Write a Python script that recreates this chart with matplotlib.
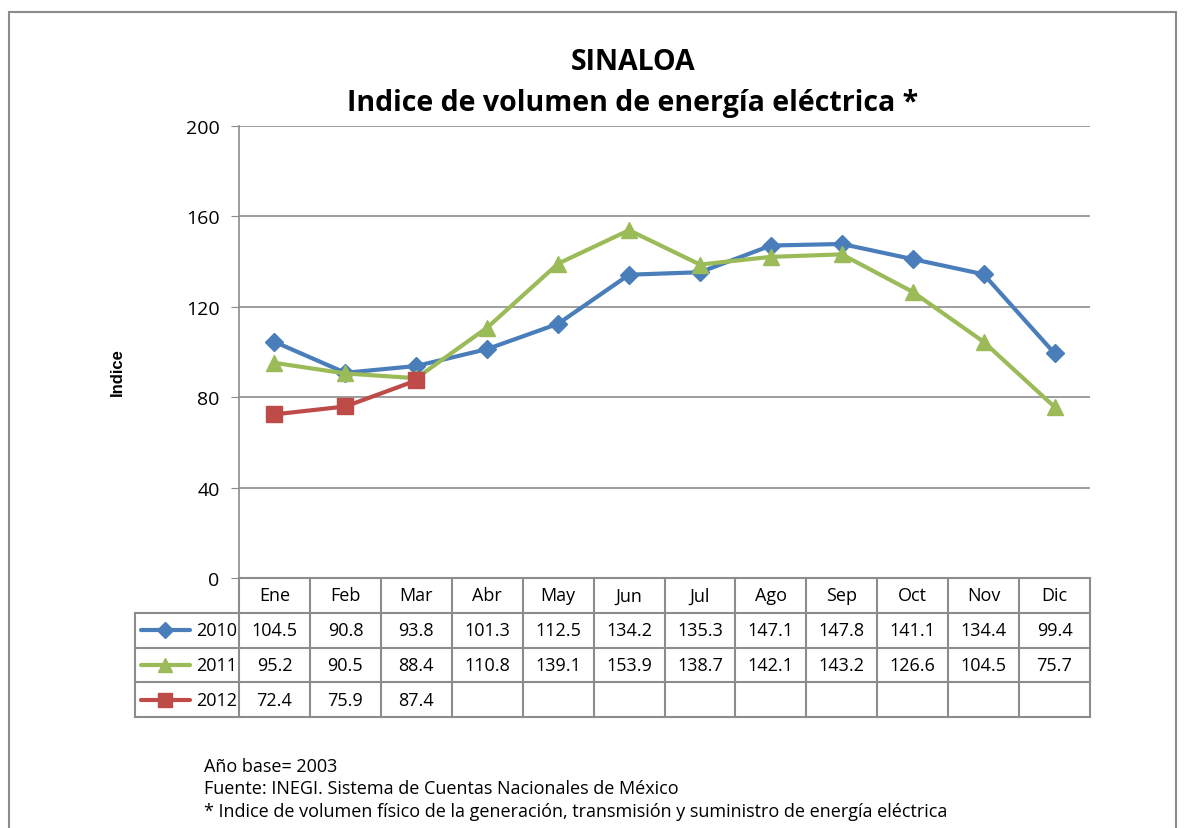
import numpy as np
import matplotlib.pyplot as plt
from matplotlib.patches import Rectangle

meses = ['Ene', 'Feb', 'Mar', 'Abr', 'May', 'Jun', 'Jul', 'Ago', 'Sep', 'Oct', 'Nov', 'Dic']
v2010 = [104.5, 90.8, 93.8, 101.3, 112.5, 134.2, 135.3, 147.1, 147.8, 141.1, 134.4, 99.4]
v2011 = [95.2, 90.5, 88.4, 110.8, 139.1, 153.9, 138.7, 142.1, 143.2, 126.6, 104.5, 75.7]
v2012 = [72.4, 75.9, 87.4]
series = [('2010', v2010, '#4A7EBB', 'D', 9),
          ('2011', v2011, '#9BBB59', '^', 11),
          ('2012', v2012, '#BE4B48', 's', 11)]

W, H = 1184, 829
plt.rcParams['font.family'] = ['Open Sans', 'DejaVu Sans']
fig = plt.figure(figsize=(W / 100, H / 100), dpi=100)

def fx(px):
    return px / W

def fy(py):
    return 1 - py / H

# outer chart border
fig.add_artist(Rectangle((fx(9), fy(840)), fx(1176 - 9), fy(13) - fy(840),
                         transform=fig.transFigure, fill=False, ec='#8c8c8c', lw=1.5))

left, right, top, bottom = 239, 1090, 127, 579
ax = fig.add_axes([fx(left), fy(bottom), fx(right - left), fy(top) - fy(bottom)])
x = np.arange(12)
for name, vals, col, mk, ms in series:
    ax.plot(x[:len(vals)], vals, color=col, lw=3, marker=mk, ms=ms, zorder=3)
ax.set_xlim(-0.5, 11.5)
ax.set_ylim(0, 200)
ax.set_yticks([0, 40, 80, 120, 160, 200])
ax.tick_params(axis='y', labelsize=14, length=6, color='#8c8c8c', pad=8)
ax.set_xticks([])
ax.grid(axis='y', color='#8c8c8c', lw=1.2)
for s in ['top', 'right']:
    ax.spines[s].set_visible(False)
for s in ['left', 'bottom']:
    ax.spines[s].set_color('#8c8c8c')
    ax.spines[s].set_linewidth(1.2)
fig.text(fx(117), fy(372), 'Indice', rotation=90, ha='center', va='center',
         fontsize=12, fontweight='bold', family='Liberation Sans')

fig.text(fx(633), fy(62), 'SINALOA', ha='center', va='center', fontsize=20.5, fontweight='bold')
fig.text(fx(633), fy(103), 'Indice de volumen de energía eléctrica *', ha='center', va='center',
         fontsize=20.5, fontweight='bold')

# data table below the plot
colw = (right - left) / 12
tleft = 135
tab = fig.add_axes([fx(tleft), fy(718), fx(right - tleft), fy(579) - fy(718)])
x0 = -0.5 - (left - tleft) / colw
tab.set_xlim(x0, 11.5)
tab.set_ylim(4, 0)
tab.axis('off')
gc = '#8c8c8c'
tab.plot([-0.5, 11.5], [0, 0], color=gc, lw=1.5, clip_on=False)
for r in [1, 2, 3, 4]:
    tab.plot([x0, 11.5], [r, r], color=gc, lw=1.5, clip_on=False)
for c in range(13):
    tab.plot([c - 0.5, c - 0.5], [0, 4], color=gc, lw=1.5, clip_on=False)
tab.plot([x0, x0], [1, 4], color=gc, lw=1.5, clip_on=False)

for i, m in enumerate(meses):
    tab.text(i, 0.5, m, ha='center', va='center', fontsize=13)
for r, (name, vals, col, mk, ms) in enumerate(series, start=1):
    tab.plot([x0 + 0.08, x0 + 0.78], [r + 0.5, r + 0.5], color=col, lw=3,
             solid_capstyle='round', clip_on=False)
    tab.plot([x0 + 0.43], [r + 0.5], color=col, marker=mk, ms=ms - 1, clip_on=False)
    tab.text(-0.53, r + 0.5, name, ha='right', va='center', fontsize=13)
    for i, v in enumerate(vals):
        tab.text(i, r + 0.5, f'{v:.1f}', ha='center', va='center', fontsize=13)

notas = ['Año base= 2003',
         'Fuente: INEGI. Sistema de Cuentas Nacionales de México',
         '* Indice de volumen físico de la generación, transmisión y suministro de energía eléctrica']
for k, t in enumerate(notas):
    fig.text(fx(204), fy(767 + 22.5 * k), t, ha='left', va='center', fontsize=13)

fig.savefig('out.png', dpi=100)
